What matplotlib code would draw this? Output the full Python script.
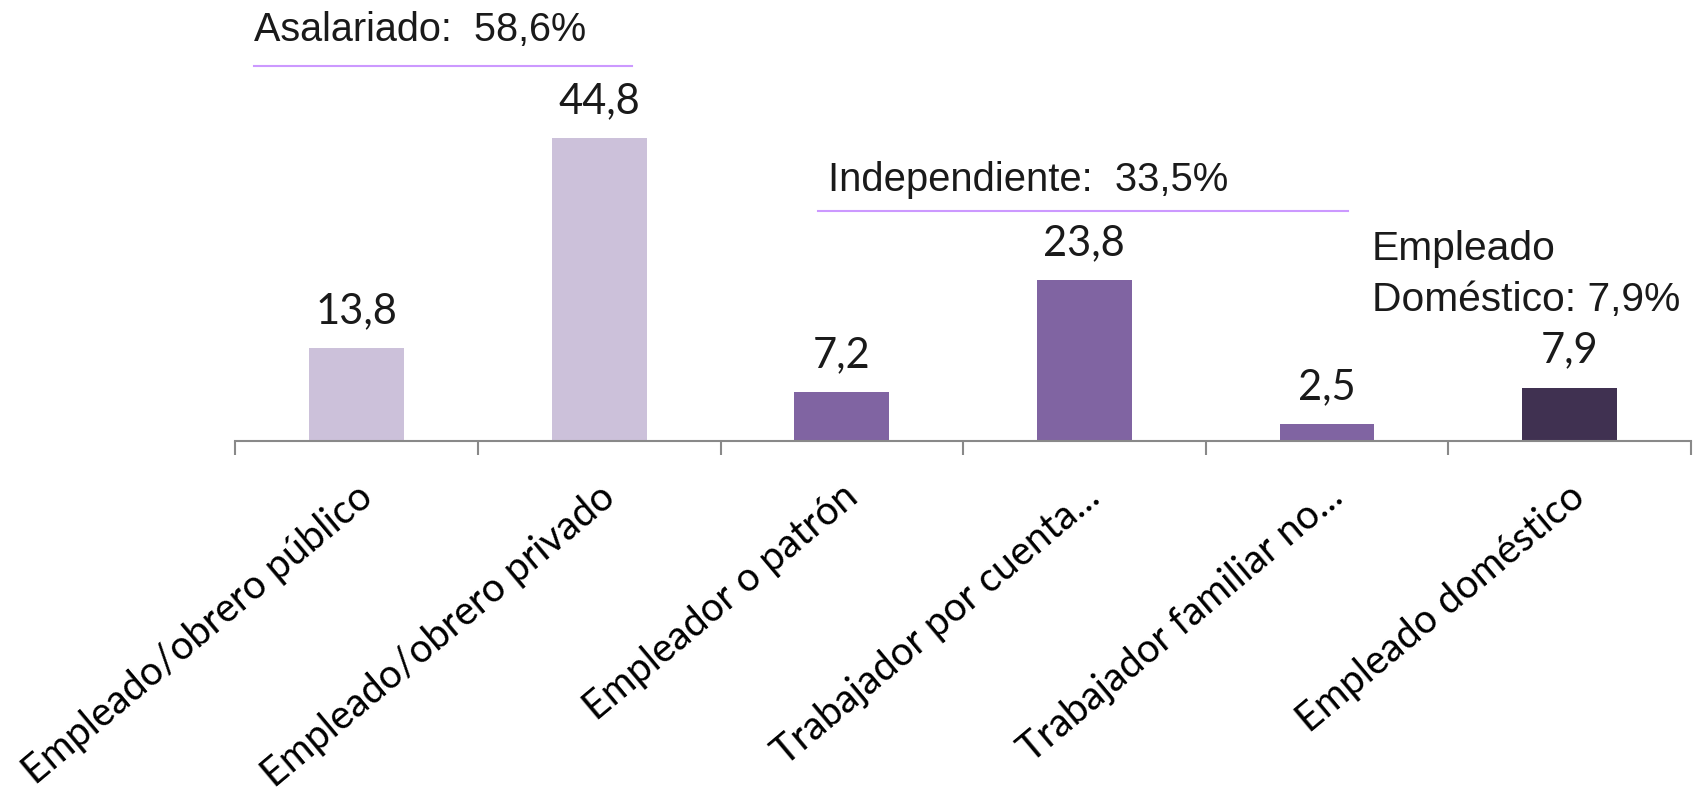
import matplotlib
matplotlib.use("Agg")
import matplotlib.pyplot as plt
import matplotlib.transforms as mtransforms
import numpy as np

# Data
categories = ["Empleado/obrero público", "Empleado/obrero privado", "Empleador o patrón",
              "Trabajador por cuenta...", "Trabajador familiar no...", "Empleado doméstico"]
values = [13.8, 44.8, 7.2, 23.8, 2.5, 7.9]
group_names = ["Asalariado", "Independiente", "Empleado\nDoméstico"]
group_totals = [58.6, 33.5, 7.9]

colors = ["#CCC1DA", "#CCC1DA", "#8064A2", "#8064A2", "#8064A2", "#403151"]
line_color = "#CC99FF"
axis_color = "#898989"

fig = plt.figure(figsize=(16.94, 7.94), dpi=100)
ax = fig.add_axes([0.139, 0.4446, 0.859, 0.5554])

x = np.arange(len(categories))
bars = ax.bar(x, values, width=0.39, color=colors)

def fmt(v):
    return f"{v:.1f}".replace(".", ",")

for b, v in zip(bars, values):
    ax.annotate(fmt(v), (b.get_x() + b.get_width() / 2, v), xytext=(0, 18),
                textcoords="offset points", ha="center", va="baseline",
                fontsize=30, family="Lato", color="#1a1a1a")

ax.set_xlim(-0.5, len(categories) - 0.5)
ax.set_ylim(0, 65.27)

for s in ["top", "right", "left"]:
    ax.spines[s].set_visible(False)
ax.spines["bottom"].set_color(axis_color)
ax.spines["bottom"].set_linewidth(1.5)
ax.set_yticks([])

ax.set_xticks(x)
ax.set_xticklabels(categories, rotation=40, ha="right", va="baseline",
                   rotation_mode="anchor", fontsize=28.5, family="Lato")
ax.tick_params(axis="x", which="major", length=0, pad=43)
shift = mtransforms.ScaledTranslation(0.18, 0, fig.dpi_scale_trans)
for lbl in ax.get_xticklabels():
    lbl.set_transform(lbl.get_transform() + shift)
ax.set_xticks(np.arange(len(categories) + 1) - 0.5, minor=True)
ax.tick_params(axis="x", which="minor", length=10, width=1.5, color=axis_color)

# group annotations
txt_kw = dict(family="Liberation Sans", color="#1a1a1a", va="baseline", ha="left")
ax.text(-0.424, 59.2, f"{group_names[0]}:  {fmt(group_totals[0])}%", fontsize=28.5, **txt_kw)
ax.plot([-0.424, 1.134], [55.5, 55.5], color=line_color, lw=1.5, clip_on=False)
ax.text(1.943, 37.0, f"{group_names[1]}:  {fmt(group_totals[1])}%", fontsize=28.8, **txt_kw)
ax.plot([1.90, 4.086], [34.0, 34.0], color=line_color, lw=1.5, clip_on=False)
ax.text(4.185, 19.2, f"{group_names[2]}: {fmt(group_totals[2])}%", fontsize=29.3,
        linespacing=1.45, **txt_kw)

fig.savefig("out.png", dpi=100)
